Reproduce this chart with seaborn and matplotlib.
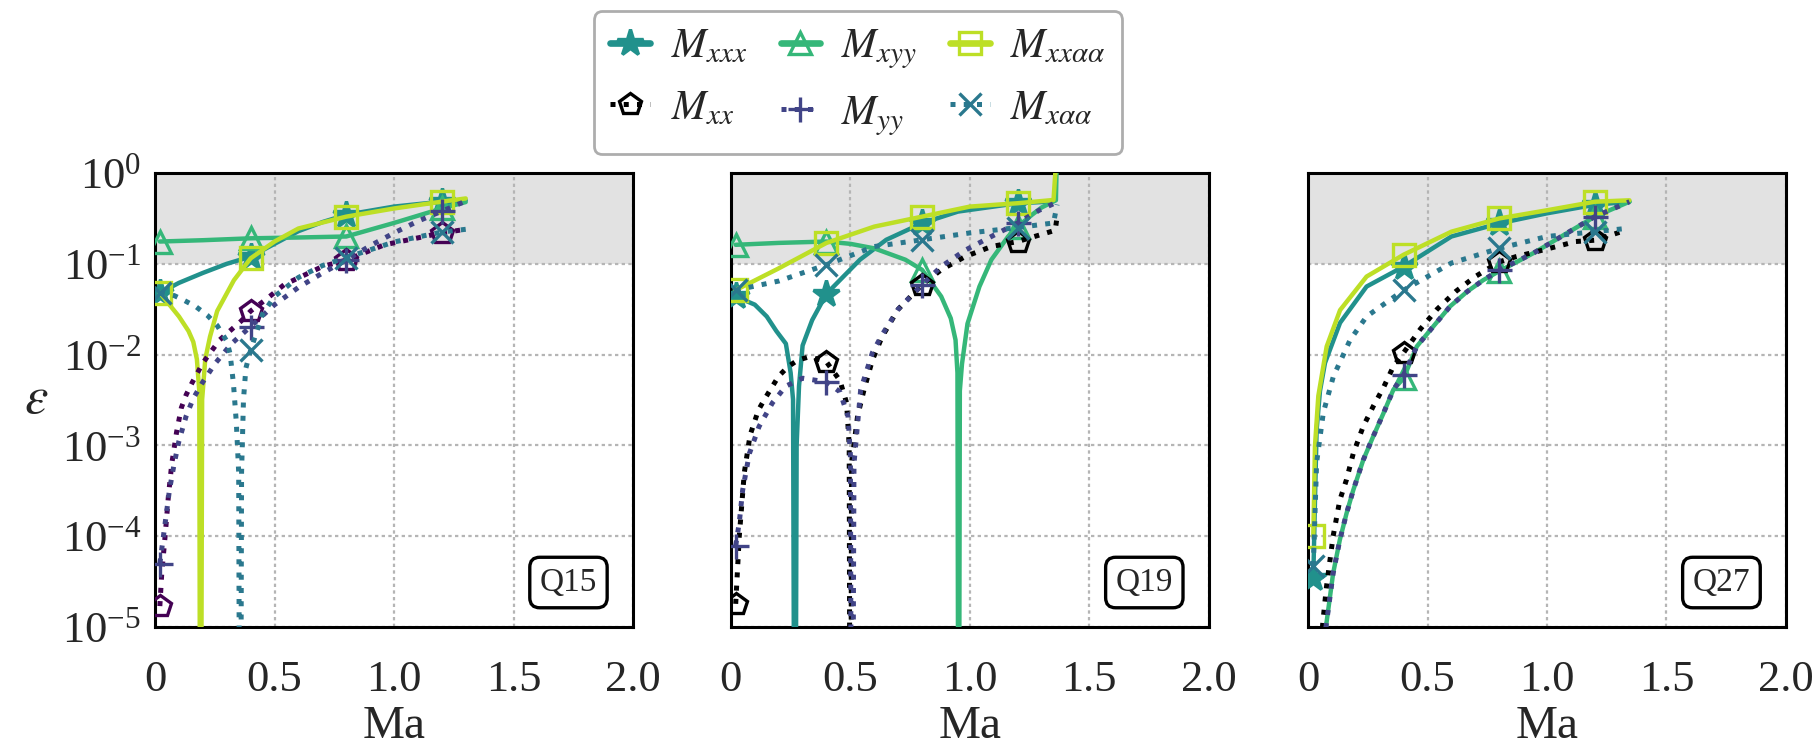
import numpy as np
import matplotlib
matplotlib.use("Agg")
import matplotlib.pyplot as plt
from matplotlib.lines import Line2D
import seaborn as sns

# Ma sample points and epsilon values
# (1e-9 marks the sign change where the error dips below the axis)

# --- Q15 ---
q15_ma_xxx = [0.02, 0.1, 0.2, 0.3, 0.4, 0.5, 0.6, 0.7, 0.8, 1.0, 1.2, 1.3]
q15_xxx = [0.0479, 0.0617, 0.0794, 0.100, 0.120, 0.166, 0.229, 0.288, 0.347, 0.427, 0.484, 0.501]
q15_ma_xyy = [0.02, 0.2, 0.4, 0.6, 0.8, 1.0, 1.2, 1.3]
q15_xyy = [0.176, 0.182, 0.191, 0.195, 0.200, 0.282, 0.407, 0.479]
q15_ma_xxaa = [0.02, 0.06, 0.1, 0.14, 0.16, 0.175, 0.185, 0.19, 0.197, 0.21, 0.23, 0.26,
               0.33, 0.4, 0.5, 0.6, 0.8, 1.0, 1.2, 1.3]
q15_xxaa = [0.0479, 0.0355, 0.0263, 0.0182, 0.0138, 0.0089, 0.0040, 1e-9, 0.0032, 0.0089,
            0.0158, 0.0302, 0.066, 0.115, 0.176, 0.245, 0.331, 0.407, 0.484, 0.525]
q15_ma_xx = [0.02, 0.028, 0.042, 0.056, 0.07, 0.09, 0.11, 0.13, 0.155, 0.2, 0.27, 0.36,
             0.4, 0.47, 0.54, 0.7, 0.8, 0.96, 1.2, 1.3]
q15_xx = [1.7e-5, 3.9e-5, 1.0e-4, 2.8e-4, 6.3e-4, 1.4e-3, 2.6e-3, 3.6e-3, 4.9e-3, 8.1e-3,
          0.0145, 0.0234, 0.0302, 0.0417, 0.0589, 0.0933, 0.110, 0.162, 0.219, 0.240]
q15_ma_yy = [0.02, 0.04, 0.06, 0.08, 0.1, 0.13, 0.16, 0.2, 0.25, 0.32, 0.4, 0.5, 0.6,
             0.7, 0.8, 0.9, 1.0, 1.1, 1.2, 1.3]
q15_yy = [5.0e-5, 1.26e-4, 3.2e-4, 6.3e-4, 1.12e-3, 2.1e-3, 3.3e-3, 5.0e-3, 7.9e-3, 0.0132,
          0.0204, 0.0355, 0.055, 0.079, 0.110, 0.158, 0.219, 0.295, 0.380, 0.490]
q15_ma_xaa = [0.02, 0.08, 0.12, 0.17, 0.22, 0.26, 0.3, 0.314, 0.328, 0.34, 0.35, 0.356,
              0.362, 0.37, 0.38, 0.4, 0.45, 0.5, 0.6, 0.7, 0.8, 1.0, 1.2, 1.3]
q15_xaa = [0.0479, 0.0447, 0.0398, 0.0339, 0.0269, 0.0209, 0.0141, 0.0102, 4.8e-3, 1.8e-3,
           5.0e-4, 1e-9, 5.0e-4, 3.2e-3, 7.1e-3, 0.0112, 0.0282, 0.0437, 0.0708, 0.0955,
           0.117, 0.174, 0.224, 0.240]

# --- Q19 ---
q19_ma_xxx = [0.02, 0.1, 0.15, 0.19, 0.23, 0.25, 0.26, 0.268, 0.275, 0.285, 0.3, 0.34,
              0.4, 0.54, 0.65, 0.8, 0.95, 1.2, 1.34]
q19_xxx = [0.0437, 0.0355, 0.0263, 0.0182, 0.0132, 6.3e-3, 3.2e-3, 1e-9, 1.0e-3, 4.5e-3,
           0.0126, 0.024, 0.0468, 0.111, 0.184, 0.280, 0.376, 0.465, 0.484]
q19_ma_xyy = [0.02, 0.2, 0.4, 0.5, 0.6, 0.73, 0.8, 0.88, 0.92, 0.94, 0.948, 0.953, 0.958,
              0.967, 0.99, 1.04, 1.09, 1.16, 1.2, 1.26, 1.3, 1.36, 1.365]
q19_xyy = [0.162, 0.170, 0.176, 0.166, 0.148, 0.111, 0.0859, 0.0437, 0.0251, 0.0145, 6.3e-3,
           1e-9, 4.0e-3, 7.9e-3, 0.0219, 0.0562, 0.111, 0.200, 0.257, 0.347, 0.417, 0.501, 2.0]
q19_ma_xxaa = [0.02, 0.2, 0.4, 0.6, 0.8, 1.0, 1.2, 1.35, 1.365]
q19_xxaa = [0.0513, 0.0891, 0.170, 0.257, 0.331, 0.427, 0.465, 0.505, 2.0]
q19_ma_xx = [0.02, 0.035, 0.056, 0.08, 0.115, 0.143, 0.2, 0.24, 0.28, 0.33, 0.4, 0.456,
             0.484, 0.495, 0.5, 0.505, 0.53, 0.557, 0.592, 0.633, 0.7, 0.8, 0.88, 0.98,
             1.09, 1.2, 1.357, 1.365]
q19_xx = [1.8e-5, 1.0e-4, 5.0e-4, 1.29e-3, 2.45e-3, 3.3e-3, 5.8e-3, 7.4e-3, 8.7e-3, 9.5e-3,
          8.3e-3, 5.2e-3, 2.95e-3, 1.0e-3, 1e-9, 6.3e-4, 2.1e-3, 4.1e-3, 8.7e-3, 0.0158,
          0.0316, 0.0589, 0.0859, 0.120, 0.155, 0.176, 0.234, 0.33]
q19_ma_yy = [0.02, 0.035, 0.049, 0.077, 0.118, 0.174, 0.23, 0.3, 0.4, 0.456, 0.49, 0.5,
             0.506, 0.515, 0.543, 0.592, 0.633, 0.7, 0.8, 0.88, 0.98, 1.09, 1.2, 1.29, 1.357]
q19_yy = [7.9e-5, 1.41e-4, 3.2e-4, 8.1e-4, 1.62e-3, 2.95e-3, 4.5e-3, 5.5e-3, 5.0e-3, 3.9e-3,
          2.1e-3, 7.9e-4, 1e-9, 6.3e-4, 4.1e-3, 0.0105, 0.0166, 0.0316, 0.0589, 0.0933,
          0.141, 0.200, 0.282, 0.389, 0.468]
q19_ma_xaa = [0.02, 0.2, 0.4, 0.6, 0.8, 1.0, 1.2, 1.35, 1.365]
q19_xaa = [0.0513, 0.0646, 0.0977, 0.155, 0.184, 0.219, 0.251, 0.282, 0.45]

# --- Q27 ---
q27_ma_xxx = [0.022, 0.03, 0.036, 0.05, 0.071, 0.134, 0.245, 0.4, 0.6, 0.8, 1.0, 1.2, 1.345]
q27_xxx = [3.5e-5, 3.2e-4, 1.48e-3, 3.98e-3, 8.1e-3, 0.0224, 0.0562, 0.0933, 0.200, 0.279,
           0.360, 0.447, 0.483]
q27_ma_xyy = [0.06, 0.077, 0.105, 0.133, 0.161, 0.189, 0.231, 0.273, 0.315, 0.357, 0.4,
              0.455, 0.524, 0.594, 0.664, 0.733, 0.8, 0.945, 1.085, 1.2, 1.345]
q27_xyy = [5.0e-6, 1.1e-5, 3.9e-5, 9.1e-5, 1.78e-4, 3.2e-4, 6.9e-4, 1.26e-3, 2.24e-3, 4.1e-3,
           5.5e-3, 0.0123, 0.0204, 0.0339, 0.049, 0.0661, 0.0830, 0.132, 0.219, 0.331, 0.483]
q27_ma_xxaa = [0.022, 0.029, 0.043, 0.078, 0.134, 0.245, 0.4, 0.6, 0.8, 1.0, 1.2, 1.345]
q27_xxaa = [1.0e-4, 9.8e-4, 3.5e-3, 0.0123, 0.0309, 0.0724, 0.126, 0.226, 0.316, 0.389,
            0.483, 0.501]
q27_ma_xx = [0.05, 0.063, 0.077, 0.105, 0.133, 0.161, 0.189, 0.231, 0.273, 0.315, 0.357,
             0.4, 0.47, 0.54, 0.62, 0.7, 0.8, 0.87, 0.955, 1.04, 1.12, 1.2, 1.33]
q27_xx = [5.0e-6, 1.2e-5, 2.75e-5, 1.0e-4, 2.5e-4, 4.2e-4, 8.1e-4, 1.62e-3, 2.7e-3, 4.3e-3,
          7.4e-3, 0.0105, 0.0191, 0.0316, 0.0501, 0.0724, 0.105, 0.120, 0.136, 0.155, 0.176,
          0.182, 0.234]
q27_ma_yy = [0.06, 0.077, 0.105, 0.133, 0.161, 0.189, 0.231, 0.273, 0.315, 0.357, 0.4,
             0.455, 0.524, 0.594, 0.664, 0.733, 0.8, 0.945, 1.085, 1.2, 1.345]
q27_yy = [5.0e-6, 1.1e-5, 3.9e-5, 9.1e-5, 1.78e-4, 3.2e-4, 6.9e-4, 1.26e-3, 2.24e-3, 4.1e-3,
          6.0e-3, 0.0123, 0.0204, 0.0339, 0.049, 0.0661, 0.0851, 0.132, 0.219, 0.331, 0.483]
q27_ma_xaa = [0.022, 0.036, 0.064, 0.106, 0.176, 0.245, 0.4, 0.6, 0.8, 1.0, 1.2, 1.33]
q27_xaa = [4.7e-5, 6.5e-4, 2.3e-3, 5.75e-3, 0.0145, 0.0263, 0.0513, 0.102, 0.148, 0.200,
           0.226, 0.245]

panel_names = ["Q15", "Q19", "Q27"]
series_keys = ["xxx", "xyy", "xxaa", "xx", "yy", "xaa"]
series_labels = [r"$M_{xxx}$", r"$M_{xyy}$", r"$M_{xx\alpha\alpha}$",
                 r"$M_{xx}$", r"$M_{yy}$", r"$M_{x\alpha\alpha}$"]
marker_ma = [0.4, 0.8, 1.2]
x_ticks = [0, 0.5, 1.0, 1.5, 2.0]
x_ticklabels = ["0", "0.5", "1.0", "1.5", "2.0"]

# line styles per series
styles = {
    "xxx":  dict(color="#21918c", ls="-", marker="*", mfc="#21918c", ms=10),
    "xyy":  dict(color="#35b779", ls="-", marker="^", mfc="none", ms=8),
    "xxaa": dict(color="#bddf26", ls="-", marker="s", mfc="none", ms=8),
    "xx":   dict(color="black", ls=":", marker="p", mfc="none", ms=8),
    "yy":   dict(color="#414487", ls=":", marker="+", mfc="none", ms=9),
    "xaa":  dict(color="#2a788e", ls=":", marker="x", mfc="none", ms=8),
}

sns.set_theme(style="white")
plt.rcParams["font.family"] = ["Liberation Serif", "DejaVu Serif"]
plt.rcParams["mathtext.fontset"] = "stix"

fig = plt.figure(figsize=(9.1, 3.755), dpi=200)
lefts = [0.0852, 0.4016, 0.7187]
data = globals()

for i, name in enumerate(panel_names):
    ax = fig.add_axes([lefts[i], 0.1651, 0.2626, 0.6045])
    ax.set_yscale("log")
    ax.axhspan(0.1, 1.0, color="#e2e2e2", zorder=0, lw=0)
    tag = name.lower()
    for key in series_keys:
        ma = data[f"{tag}_ma_{key}"]
        eps = data[f"{tag}_{key}"]
        st = dict(styles[key])
        if name == "Q15" and key == "xx":
            st["color"] = "#440154"
        idx = [j for j, m in enumerate(ma) if any(abs(m - t) < 1e-6 for t in marker_ma)]
        if ma[0] < 0.03:
            idx = [0] + idx
        sns.lineplot(x=ma, y=eps, ax=ax, sort=False, estimator=None, legend=False,
                     color=st["color"], linestyle=st["ls"],
                     linewidth=1.6 if st["ls"] == "-" else 1.8,
                     marker=st["marker"], markevery=idx, markersize=st["ms"],
                     markerfacecolor=st["mfc"], markeredgecolor=st["color"],
                     markeredgewidth=1.2, zorder=3)
    ax.set_xlim(0, 2.0)
    ax.set_ylim(1e-5, 1.0)
    ax.set_xticks(x_ticks)
    ax.set_xticklabels(x_ticklabels)
    ax.set_yticks([1e-5, 1e-4, 1e-3, 1e-2, 1e-1, 1e0])
    ax.grid(True, which="major", ls=(0, (1.5, 1.5)), color="#b5b5b5", lw=0.8)
    ax.tick_params(axis="both", which="major", direction="in", length=4, width=1.0,
                   labelsize=16, pad=5)
    ax.tick_params(axis="x", which="major", pad=12)
    ax.tick_params(axis="y", which="minor", direction="in", length=2.2, width=0.8, left=True)
    for sp in ax.spines.values():
        sp.set_color("black")
        sp.set_linewidth(1.1)
    ax.set_xlabel("Ma", fontsize=17, labelpad=2)
    if i == 0:
        ax.set_ylabel(r"$\varepsilon$", fontsize=19, rotation=0, labelpad=9, va="center")
    else:
        ax.set_yticklabels([])
    ax.text(0.865, 0.098, name, transform=ax.transAxes, ha="center", va="center",
            fontsize=12, bbox=dict(boxstyle="round,pad=0.3", fc="white", ec="black", lw=1.2))

handles = []
for key in series_keys:
    st = styles[key]
    handles.append(Line2D([], [], color=st["color"], ls=st["ls"],
                          lw=2.4 if st["ls"] == "-" else 1.8, marker=st["marker"],
                          ms=st["ms"], mfc=st["mfc"], mec=st["color"], mew=1.2))
order = [0, 3, 1, 4, 2, 5]
fig.legend([handles[k] for k in order], [series_labels[k] for k in order],
           loc="upper center", bbox_to_anchor=(0.4715, 0.985), ncol=3, fontsize=15,
           frameon=True, fancybox=True, edgecolor="#999999", handlelength=0.95,
           columnspacing=0.8, borderpad=0.4, labelspacing=0.55, handletextpad=0.5,
           borderaxespad=0)

fig.savefig("out.png", dpi=200)
